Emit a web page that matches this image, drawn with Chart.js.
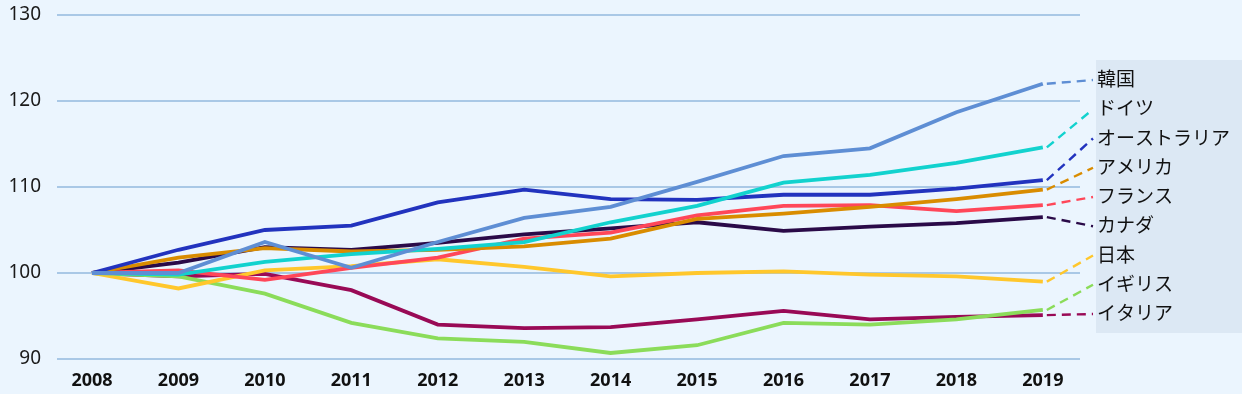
<!DOCTYPE html>
<html>
<head>
<meta charset="utf-8">
<script src="https://cdn.jsdelivr.net/npm/chart.js@4"></script>
<style>
html,body{margin:0;padding:0;background:#EBF5FE;}
#wrap{width:1242px;height:394px;position:relative;}
</style>
</head>
<body>
<div id="wrap"><canvas id="c" width="1242" height="394"></canvas></div>
<script>
const years = [2008,2009,2010,2011,2012,2013,2014,2015,2016,2017,2018,2019];
const yTicks = [90,100,110,120,130];
const countries = ['韓国','ドイツ','オーストラリア','アメリカ','フランス','カナダ','日本','イギリス','イタリア'];
const korea     = [100,100.0,103.6,100.6,103.6,106.4,107.7,110.6,113.6,114.5,118.7,122.0];
const germany   = [100,99.8,101.3,102.2,102.8,103.6,105.9,107.8,110.5,111.4,112.8,114.6];
const australia = [100,102.7,105.0,105.5,108.2,109.7,108.6,108.5,109.1,109.1,109.8,110.8];
const usa       = [100,101.8,102.9,102.5,102.7,103.1,104.0,106.3,106.9,107.7,108.6,109.7];
const france    = [100,100.3,99.2,100.6,101.8,104.0,104.7,106.7,107.8,107.9,107.2,107.9];
const canada    = [100,101.2,103.0,102.7,103.5,104.5,105.2,105.9,104.9,105.4,105.8,106.5];
const japan     = [100,98.2,100.3,100.8,101.6,100.7,99.6,100.0,100.2,99.8,99.6,99.0];
const uk        = [100,99.6,97.6,94.2,92.4,92.0,90.7,91.6,94.2,94.0,94.6,95.7];
const italy     = [100,99.6,99.9,98.0,94.0,93.6,93.7,94.6,95.6,94.6,94.9,95.1];
const seriesValues = [korea,germany,australia,usa,france,canada,japan,uk,italy];
const colors = ['#5E8ED4','#12D2CE','#2233BE','#D98C00','#FF4759','#2A0A48','#FFC72C','#8BDC5A','#990A56'];

const datasets = countries.map((name,i)=>({
  label:name,
  data: years.map((yr,j)=>({x:yr,y:seriesValues[i][j]})),
  borderColor:colors[i],
  backgroundColor:colors[i],
  borderWidth:3.8,
  pointRadius:0,
  tension:0,
  fill:false
}));

const labelPlugin = {
  id:'labels',
  beforeDraw(chart){
    const ctx=chart.ctx;
    ctx.save();
    ctx.fillStyle='#DCE8F4';
    ctx.fillRect(1096,60,146,273);
    ctx.restore();
  },
  afterDatasetsDraw(chart){
    const ctx=chart.ctx;
    ctx.save();
    const top=79, step=29.25;
    chart.data.datasets.forEach((ds,i)=>{
      const meta=chart.getDatasetMeta(i);
      const last=meta.data[meta.data.length-1];
      const ly=top+i*step;
      ctx.beginPath();
      ctx.setLineDash([9,6]);
      ctx.lineWidth=2.4;
      ctx.strokeStyle=ds.borderColor;
      ctx.moveTo(last.x+4,last.y);
      ctx.lineTo(1093,ly+1);
      ctx.stroke();
      ctx.setLineDash([]);
      ctx.fillStyle='#111';
      ctx.font='19px "Noto Sans CJK JP", "Noto Sans", sans-serif';
      ctx.textBaseline='middle';
      ctx.textAlign='left';
      ctx.fillText(ds.label,1097,ly);
    });
    ctx.restore();
  }
};

new Chart(document.getElementById('c'),{
  type:'line',
  data:{datasets},
  options:{
    responsive:false,
    animation:false,
    layout:{padding:{left:0,right:162,top:15,bottom:0}},
    plugins:{legend:{display:false},tooltip:{enabled:false}},
    scales:{
      x:{
        type:'linear',
        min:2007.595,
        max:2019.43,
        afterBuildTicks(s){ s.ticks = years.map(v=>({value:v})); },
        afterFit(s){ s.height=35; s.paddingLeft=0; s.paddingRight=0; },
        grid:{display:false,drawTicks:false},
        border:{display:false},
        ticks:{
          padding:11,
          color:'#111',
          font:{family:'"Noto Sans", sans-serif',size:18,weight:'bold'},
          callback:(v)=>String(v),
          maxRotation:0,autoSkip:false
        }
      },
      y:{
        min:90,max:130,
        afterBuildTicks(s){ s.ticks = yTicks.map(v=>({value:v})); },
        afterFit(s){ s.width=57; s.paddingTop=0; s.paddingBottom=0; },
        grid:{color:'#A9C8E6',lineWidth:2,drawTicks:false},
        border:{display:false},
        ticks:{
          padding:16,
          color:'#1a1a1a',
          font:{family:'"Noto Sans", sans-serif',size:19}
        }
      }
    }
  },
  plugins:[labelPlugin]
});
</script>
</body>
</html>
